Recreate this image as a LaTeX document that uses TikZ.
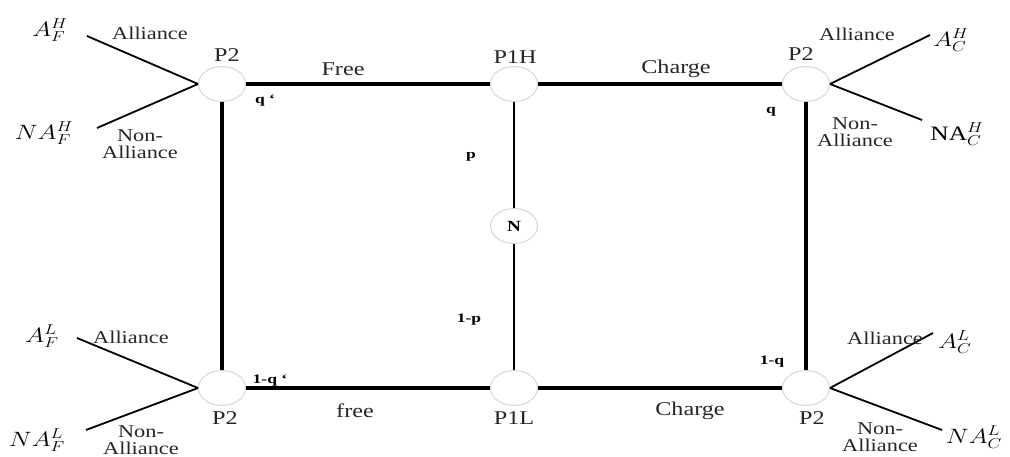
\documentclass[tikz,border=0pt]{standalone}
\usepackage{graphicx}
\usepackage{fontspec}
\setmainfont{Liberation Serif}
\usetikzlibrary{shapes.geometric}
\newcommand\wx[1]{\scalebox{1.24}[1]{#1}}
\newcommand\wprob[1]{\scalebox{1.35}[1]{#1}}
\begin{document}
\begin{tikzpicture}[x=1pt,y=-1pt,
  chance/.style={ellipse,draw=gray!35,line width=0.9pt,fill=white,minimum width=47pt,minimum height=35pt,inner sep=0pt},
  frame/.style={line width=3.5pt},
  thin/.style={line width=2pt},
  branch/.style={line width=1.8pt},
  lbl/.style={font=\fontsize{19.5}{19.5}\selectfont,inner sep=1pt,text=black!85},
  small/.style={font=\fontsize{18}{16.5}\selectfont,align=center,inner sep=0pt,text=black!85},
  prob/.style={font=\fontsize{13}{13}\selectfont\bfseries,inner sep=1pt},
  pay/.style={font=\fontsize{20.5}{20.5}\selectfont,inner sep=0pt}]
\useasboundingbox (0,0) rectangle (1010,457);
% nodes
\node[chance] (TL) at (222,84) {};
\node[chance] (P1H) at (514,84) {};
\node[chance] (TR) at (806,84) {};
\node[chance] (BL) at (222,388) {};
\node[chance] (P1L) at (514,388) {};
\node[chance] (BR) at (806,388) {};
\node[chance,font=\fontsize{15.5}{15.5}\selectfont\bfseries] (N) at (514,226) {\wx{N}};
% frame
\draw[frame] (TL.east) -- (P1H.west);
\draw[frame] (P1H.east) -- (TR.west);
\draw[frame] (BL.east) -- (P1L.west);
\draw[frame] (P1L.east) -- (BR.west);
\draw[frame] (TL.south) -- (BL.north);
\draw[frame] (TR.south) -- (BR.north);
\draw[thin] (P1H.south) -- (N.north);
\draw[thin] (N.south) -- (P1L.north);
% branch ends
\coordinate (tla) at (87,36);
\coordinate (tln) at (97,128);
\coordinate (tra) at (930,35);
\coordinate (trn) at (922,120);
\coordinate (bla) at (77,338);
\coordinate (bln) at (86,430);
\coordinate (bra) at (933,333);
\coordinate (brn) at (942,430);
\draw[branch] (TL.west) -- (tla);
\draw[branch] (TL.west) -- (tln);
\draw[branch] (TR.east) -- (tra);
\draw[branch] (TR.east) -- (trn);
\draw[branch] (BL.west) -- (bla);
\draw[branch] (BL.west) -- (bln);
\draw[branch] (BR.east) -- (bra);
\draw[branch] (BR.east) -- (brn);
% node labels
\node[lbl] (l1) at (227,55) {\wx{P2}};
\node[lbl] (l2) at (515,57) {\wx{P1H}};
\node[lbl] (l3) at (801,54) {\wx{P2}};
\node[lbl] (l4) at (225,418) {\wx{P2}};
\node[lbl] (l5) at (514,418) {\wx{P1L}};
\node[lbl] (l6) at (812,418) {\wx{P2}};
% edge labels
\node[lbl] (e1) at (343,69) {\wx{Free}};
\node[lbl] (e2) at (676,69) {\wx{Charge}};
\node[lbl] (e3) at (355,411) {\wx{free}};
\node[lbl] (e4) at (690,411) {\wx{Charge}};
% probabilities
\node[prob] (q1) at (265,101) {\wprob{q \textquoteleft}};
\node[prob] (q2) at (771,112) {\wprob{q}};
\node[prob] (q3) at (270,381) {\wprob{1-q \textquoteleft}};
\node[prob] (q4) at (772,362) {\wprob{1-q}};
\node[prob] (pp) at (471,157) {\wprob{p}};
\node[prob] (p1) at (469,320) {\wprob{1-p}};
% branch labels
\node[small] (b1) at (150,33) {\wx{Alliance}};
\node[small] (b2) at (140,144) {\wx{Non-}\\\wx{Alliance}};
\node[small] (b3) at (857,34) {\wx{Alliance}};
\node[small] (b4) at (855,132) {\wx{Non-}\\\wx{Alliance}};
\node[small] (b5) at (131,337) {\wx{Alliance}};
\node[small] (b6) at (141,440) {\wx{Non-}\\\wx{Alliance}};
\node[small] (b7) at (885,338) {\wx{Alliance}};
\node[small] (b8) at (880,437) {\wx{Non-}\\\wx{Alliance}};
% payoffs
\node[pay] (a1) at (50,30) {\wx{$A_F^H$}};
\node[pay] (a2) at (44,133) {\wx{$NA_F^H$}};
\node[pay] (a3) at (951,40) {\wx{$A_C^H$}};
\node[pay] (a4) at (957,134) {\wx{NA$_C^H$}};
\node[pay] (a5) at (42,336) {\wx{$A_F^L$}};
\node[pay] (a6) at (37,440) {\wx{$NA_F^L$}};
\node[pay] (a7) at (955,342) {\wx{$A_C^L$}};
\node[pay] (a8) at (974,437) {\wx{$NA_C^L$}};
\end{tikzpicture}
\end{document}
